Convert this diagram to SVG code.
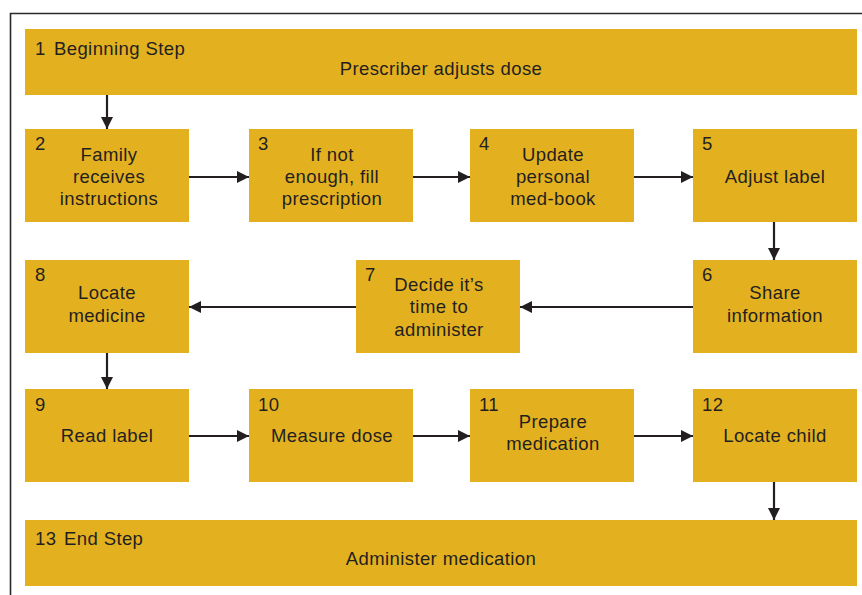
<svg xmlns="http://www.w3.org/2000/svg" width="862" height="595" viewBox="0 0 862 595">
<style>
.box{fill:#E3B120}
.t{font-family:"Liberation Sans",Arial,sans-serif;font-size:18.5px;letter-spacing:0.4px;fill:#231F20}
.c{text-anchor:middle}
.conn line{stroke:#231F20;stroke-width:2.2}
</style>
<defs>
<marker id="ah" viewBox="0 0 12 12" refX="12" refY="6" markerWidth="12" markerHeight="12" markerUnits="userSpaceOnUse" orient="auto">
<path d="M0,0 L12,6 L0,12 Z" fill="#231F20"/>
</marker>
</defs>
<rect width="862" height="595" fill="#fff"/>
<path d="M10.5,595 V13.5 H862" fill="none" stroke="#2a2a2a" stroke-width="1.6"/>
<g id="n1"><rect class="box" x="25" y="29" width="832" height="66"/><text class="t" x="35" y="55">1</text><text class="t" x="54" y="55">Beginning Step</text><text class="t c" x="441" y="75">Prescriber adjusts dose</text></g>
<g id="n2"><rect class="box" x="25" y="129" width="164" height="93"/><text class="t" x="35" y="150">2</text><text class="t c" x="109" y="161">Family</text><text class="t c" x="109" y="183">receives</text><text class="t c" x="109" y="205">instructions</text></g>
<g id="n3"><rect class="box" x="249" y="129" width="164" height="93"/><text class="t" x="258" y="150">3</text><text class="t c" x="332" y="161">If not</text><text class="t c" x="332" y="183">enough, fill</text><text class="t c" x="332" y="205">prescription</text></g>
<g id="n4"><rect class="box" x="470" y="129" width="164" height="93"/><text class="t" x="479" y="150">4</text><text class="t c" x="553" y="161">Update</text><text class="t c" x="553" y="183">personal</text><text class="t c" x="553" y="205">med-book</text></g>
<g id="n5"><rect class="box" x="693" y="129" width="164" height="93"/><text class="t" x="702" y="150">5</text><text class="t c" x="775" y="183">Adjust label</text></g>
<g id="n6"><rect class="box" x="693" y="260" width="164" height="93"/><text class="t" x="702" y="281">6</text><text class="t c" x="775" y="299">Share</text><text class="t c" x="775" y="322">information</text></g>
<g id="n7"><rect class="box" x="356" y="260" width="164" height="93"/><text class="t" x="365" y="281">7</text><text class="t c" x="439" y="291">Decide it’s</text><text class="t c" x="439" y="313">time to</text><text class="t c" x="439" y="336">administer</text></g>
<g id="n8"><rect class="box" x="25" y="260" width="164" height="93"/><text class="t" x="35" y="281">8</text><text class="t c" x="107" y="299">Locate</text><text class="t c" x="107" y="322">medicine</text></g>
<g id="n9"><rect class="box" x="25" y="389" width="164" height="93"/><text class="t" x="35" y="411">9</text><text class="t c" x="107" y="442">Read label</text></g>
<g id="n10"><rect class="box" x="249" y="389" width="164" height="93"/><text class="t" x="258" y="411">10</text><text class="t c" x="332" y="442">Measure dose</text></g>
<g id="n11"><rect class="box" x="470" y="389" width="164" height="93"/><text class="t" x="479" y="411">11</text><text class="t c" x="553" y="428">Prepare</text><text class="t c" x="553" y="450">medication</text></g>
<g id="n12"><rect class="box" x="693" y="389" width="164" height="93"/><text class="t" x="702" y="411">12</text><text class="t c" x="775" y="442">Locate child</text></g>
<g id="n13"><rect class="box" x="25" y="520" width="832" height="66"/><text class="t" x="35" y="545">13</text><text class="t" x="64" y="545">End Step</text><text class="t c" x="441" y="565">Administer medication</text></g>
<g class="conn">
<line x1="107" y1="95" x2="107" y2="129" marker-end="url(#ah)"/>
<line x1="189" y1="177" x2="249" y2="177" marker-end="url(#ah)"/>
<line x1="413" y1="177" x2="470" y2="177" marker-end="url(#ah)"/>
<line x1="634" y1="177" x2="693" y2="177" marker-end="url(#ah)"/>
<line x1="774" y1="222" x2="774" y2="260" marker-end="url(#ah)"/>
<line x1="693" y1="307" x2="520" y2="307" marker-end="url(#ah)"/>
<line x1="356" y1="307" x2="189" y2="307" marker-end="url(#ah)"/>
<line x1="107" y1="353" x2="107" y2="389" marker-end="url(#ah)"/>
<line x1="189" y1="436" x2="249" y2="436" marker-end="url(#ah)"/>
<line x1="413" y1="436" x2="470" y2="436" marker-end="url(#ah)"/>
<line x1="634" y1="436" x2="693" y2="436" marker-end="url(#ah)"/>
<line x1="774" y1="482" x2="774" y2="520" marker-end="url(#ah)"/>
</g>
</svg>
